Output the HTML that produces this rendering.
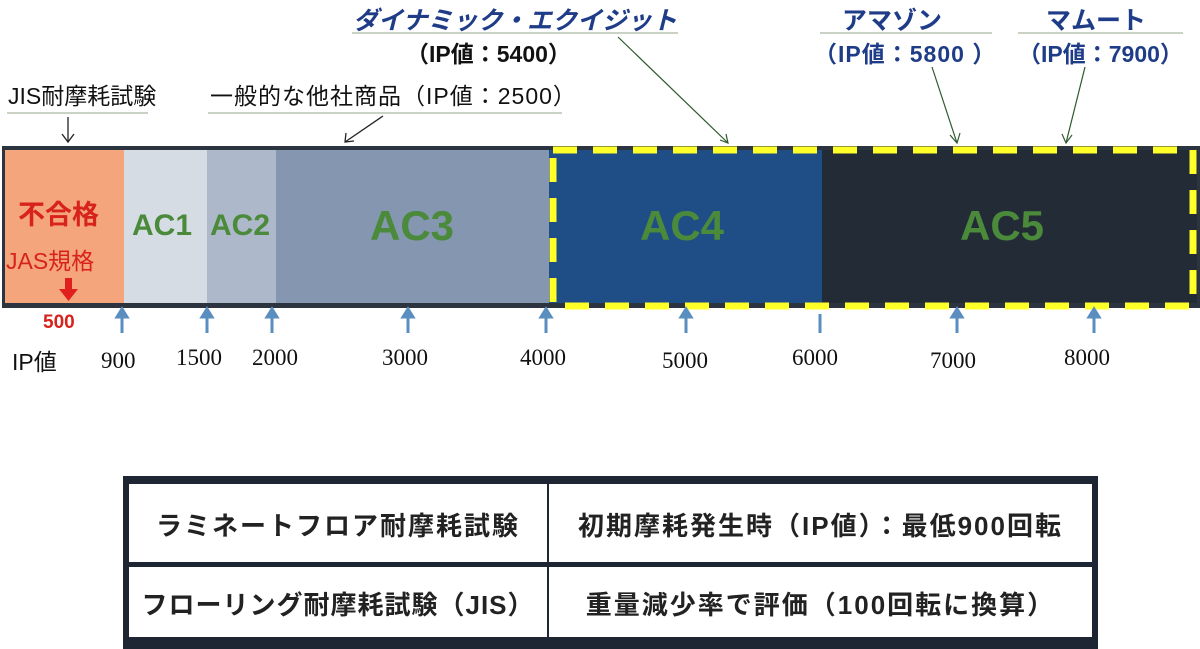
<!DOCTYPE html>
<html><head><meta charset="utf-8"><style>
body{margin:0;width:1200px;height:649px;background:#fff;overflow:hidden;position:relative;font-family:"Liberation Sans","Noto Sans CJK JP",sans-serif}
.t{position:absolute;white-space:nowrap}
.n{font-family:'Liberation Serif',serif;font-size:23px;color:#111;position:absolute}
.ac{position:absolute;white-space:nowrap;color:#4a8a3a;font-weight:bold}
.tb{position:absolute;white-space:nowrap;text-align:center;font-size:26px;letter-spacing:2px;color:#222;font-weight:bold}
</style></head><body>
<svg width="1200" height="649" style="position:absolute;left:0;top:0">
<g stroke="#c9d2c4" stroke-width="2">
<line x1="7" y1="113" x2="148" y2="113"/>
<line x1="208" y1="113" x2="562" y2="113"/>
<line x1="352" y1="33" x2="678" y2="33"/>
<line x1="820" y1="33" x2="992" y2="33"/>
<line x1="1018" y1="33" x2="1183" y2="33"/>
</g>
<rect x="2" y="146" width="1198" height="162" fill="#2c3440"/>
<rect x="5" y="150" width="119" height="153" fill="#f4a57c"/>
<rect x="124" y="150" width="83" height="153" fill="#d6dce4"/>
<rect x="207" y="150" width="69" height="153" fill="#adb9ca"/>
<rect x="276" y="150" width="273" height="153" fill="#8496b0"/>
<rect x="549" y="150" width="273" height="153" fill="#1f4e87"/>
<rect x="822" y="150" width="375" height="153" fill="#232b36"/>
<rect x="553" y="150" width="640" height="156" fill="none" stroke="#ffff2a" stroke-width="7" stroke-dasharray="24,16"/>
<g stroke="#222" stroke-width="1.3" fill="none">
<line x1="68" y1="117" x2="68" y2="142"/><polyline points="62,134 68,142 74,134"/>
<line x1="383" y1="116" x2="345" y2="142"/><polyline points="346,133 345,142 354,141"/>
</g>
<g stroke="#2e5a2e" stroke-width="1.2" fill="none">
<line x1="618" y1="37" x2="728" y2="143"/><polyline points="726,134 728,143 720,140"/>
<line x1="932" y1="67" x2="957" y2="143"/><polyline points="950,135 957,143 960,133"/>
<line x1="1085" y1="67" x2="1066" y2="143"/><polyline points="1062,134 1066,143 1072,135"/>
</g>
<g stroke="#5b8ec0" stroke-width="3" fill="#5b8ec0">
<line x1="122" y1="314" x2="122" y2="333"/><polygon points="117,317 122,309 127,317"/>
<line x1="207" y1="314" x2="207" y2="333"/><polygon points="202,317 207,309 212,317"/>
<line x1="272" y1="314" x2="272" y2="333"/><polygon points="267,317 272,309 277,317"/>
<line x1="408" y1="314" x2="408" y2="333"/><polygon points="403,317 408,309 413,317"/>
<line x1="546" y1="314" x2="546" y2="333"/><polygon points="541,317 546,309 551,317"/>
<line x1="686" y1="314" x2="686" y2="333"/><polygon points="681,317 686,309 691,317"/>
<line x1="820" y1="314" x2="820" y2="333"/>
<line x1="957" y1="314" x2="957" y2="333"/><polygon points="952,317 957,309 962,317"/>
<line x1="1094" y1="314" x2="1094" y2="333"/><polygon points="1089,317 1094,309 1099,317"/>
</g>
<rect x="65" y="278" width="7" height="13" fill="#e0201c"/>
<polygon points="59,289 78,289 68.5,301" fill="#e0201c"/>
<rect x="123" y="476" width="975" height="173" fill="#1e2633"/>
<rect x="129" y="484" width="963" height="78" fill="#fff"/>
<rect x="129" y="567" width="963" height="70" fill="#fff"/>
<rect x="547" y="484" width="2" height="153" fill="#1e2633"/>
</svg>
<div class="t" style="left:8px;top:77px;font-size:23px;color:#111">JIS耐摩耗試験</div>
<div class="t" style="left:210px;top:77px;font-size:23px;color:#111;letter-spacing:1px">一般的な他社商品（IP値：2500）</div>
<div class="t" style="left:353px;top:1px;font-size:25px;font-weight:bold;color:#1f3c88;font-style:italic">ダイナミック・エクイジット</div>
<div class="t" style="left:406px;top:35px;font-size:23px;color:#111;font-weight:bold">（IP値：5400）</div>
<div class="t" style="left:842px;top:1px;font-size:25px;font-weight:bold;color:#1f3c88">アマゾン</div>
<div class="t" style="left:814px;top:35px;font-size:23px;font-weight:bold;color:#1f3c88;letter-spacing:1px">（IP値：5800 ）</div>
<div class="t" style="left:1046px;top:1px;font-size:25px;font-weight:bold;color:#1f3c88">マムート</div>
<div class="t" style="left:1018px;top:35px;font-size:23px;font-weight:bold;color:#1f3c88">（IP値：7900）</div>
<div class="t" style="left:18px;top:193px;font-size:27px;font-weight:bold;color:#d8221c">不合格</div>
<div class="t" style="left:6px;top:242px;font-size:23px;color:#d8221c">JAS規格</div>
<div class="t" style="left:43px;top:312px;font-size:19px;font-weight:bold;color:#d8221c">500</div>
<div class="ac" style="left:132px;top:209px;font-size:30px">AC1</div>
<div class="ac" style="left:210px;top:209px;font-size:30px">AC2</div>
<div class="ac" style="left:370px;top:202px;font-size:42px">AC3</div>
<div class="ac" style="left:640px;top:202px;font-size:42px">AC4</div>
<div class="ac" style="left:960px;top:202px;font-size:42px">AC5</div>
<div class="t" style="left:12px;top:343px;font-size:23px;color:#111">IP値</div>
<div class="n" style="top:348px;left:101px">900</div>
<div class="n" style="top:345px;left:176px">1500</div>
<div class="n" style="top:345px;left:252px">2000</div>
<div class="n" style="top:345px;left:382px">3000</div>
<div class="n" style="top:345px;left:520px">4000</div>
<div class="n" style="top:348px;left:662px">5000</div>
<div class="n" style="top:345px;left:792px">6000</div>
<div class="n" style="top:348px;left:930px">7000</div>
<div class="n" style="top:345px;left:1064px">8000</div>
<div class="tb" style="left:129px;top:506px;width:418px">ラミネートフロア耐摩耗試験</div>
<div class="tb" style="left:549px;top:506px;width:543px">初期摩耗発生時（IP値）：最低900回転</div>
<div class="tb" style="left:129px;top:585px;width:418px;letter-spacing:1px">フローリング耐摩耗試験（JIS）</div>
<div class="tb" style="left:549px;top:585px;width:543px">重量減少率で評価（100回転に換算）</div>
</body></html>
